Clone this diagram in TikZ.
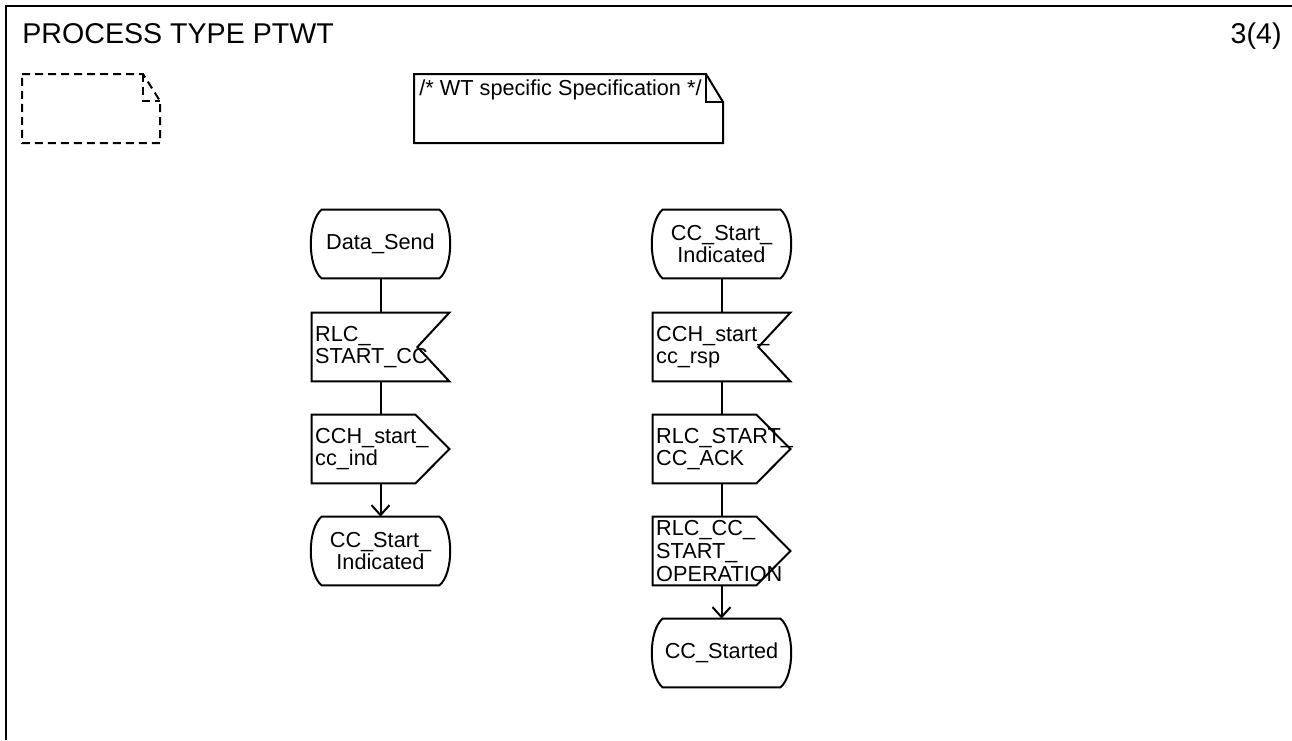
\documentclass[tikz,border=0pt]{standalone}
\usepackage{fontspec}
\setmainfont{Liberation Sans}
\usetikzlibrary{calc,arrows.meta}
\begin{document}
\begin{tikzpicture}[x=0.5pt,y=-0.5pt,
  every node/.style={font=\fontsize{10.85pt}{11.3pt}\selectfont},
  sdlbox/.style={rectangle,minimum width=68.5pt,minimum height=34pt,inner xsep=1.6pt,inner ysep=0pt,text width=65.3pt},
  statebox/.style={sdlbox,align=center},
  sigbox/.style={sdlbox,align=left},
  outline/.style={line width=1pt,line join=miter},
  flow/.style={line width=1pt},
  flowarrow/.style={line width=1pt,-{Straight Barb[length=5pt,width=9pt,line width=1pt]}},
  frameline/.style={line width=1.3pt}
]
\useasboundingbox (0,0) rectangle (1292,740);
% frame
\draw[frameline] (6,740) -- (6,6) -- (1292,6);
\node[anchor=base west,inner sep=0pt,font=\fontsize{14.3pt}{16pt}\selectfont] (title) at (22,43) {PROCESS TYPE PTWT};
\node[anchor=base east,inner sep=0pt,font=\fontsize{14.3pt}{16pt}\selectfont] (page) at (1282,43) {3(4)};

% text extension symbol (dashed, empty)
\draw[line width=1pt,dash pattern=on 4pt off 2.5pt] (22,74) -- (143,74) -- (160,101) -- (160,143) -- (22,143) -- cycle;
\draw[line width=1pt,dash pattern=on 4pt off 2.5pt] (143,74) -- (143,101) -- (160,101);

% comment
\draw[outline] (414,74) -- (706,74) -- (723,102) -- (723,143) -- (414,143) -- cycle;
\draw[outline] (706,74) -- (706,102) -- (723,102);
\node[anchor=base west,inner sep=0pt] (comment) at (419,95) {/* WT specific Specification */};

% ---------- left column ----------
\node[statebox] (s1) at (380.5,244) {Data\_Send};
\node[sigbox]   (i1) at (380.5,347) {RLC\_\\START\_CC};
\node[sigbox]   (o1) at (380.5,449) {CCH\_start\_\\cc\_ind};
\node[statebox] (s2) at (380.5,551) {CC\_Start\_\\Indicated};

% ---------- right column ----------
\node[statebox] (s3) at (721.5,244) {CC\_Start\_\\Indicated};
\node[sigbox]   (i2) at (721.5,347) {CCH\_start\_\\cc\_rsp};
\node[sigbox]   (o2) at (721.5,449) {RLC\_START\_\\CC\_ACK};
\node[sigbox]   (o3) at (721.5,551) {RLC\_CC\_\\START\_\\OPERATION};
\node[statebox] (s4) at (721.5,653) {CC\_Started};

% state outlines
\foreach \n in {s1,s2,s3,s4}{
  \draw[outline]
    ($(\n.north west)+(5pt,0)$) -- ($(\n.north east)+(-5pt,0)$)
    .. controls ($(\n.north east)+(2.2pt,-6pt)$) and ($(\n.south east)+(2.2pt,6pt)$) ..
    ($(\n.south east)+(-5pt,0)$) -- ($(\n.south west)+(5pt,0)$)
    .. controls ($(\n.south west)+(-2.2pt,6pt)$) and ($(\n.north west)+(-2.2pt,-6pt)$) ..
    cycle;
}
% input outlines
\foreach \n in {i1,i2}{
  \draw[outline] (\n.north west) -- (\n.north east) -- ($(\n.east)+(-16pt,0)$) -- (\n.south east) -- (\n.south west) -- cycle;
}
% output outlines
\foreach \n in {o1,o2,o3}{
  \draw[outline] (\n.north west) -- ($(\n.north east)+(-17pt,0)$) -- (\n.east) -- ($(\n.south east)+(-17pt,0)$) -- (\n.south west) -- cycle;
}

% connectors
\draw[flow] (s1.south) -- (i1.north);
\draw[flow] (i1.south) -- (o1.north);
\draw[flowarrow] (o1.south) -- (s2.north);
\draw[flow] (s3.south) -- (i2.north);
\draw[flow] (i2.south) -- (o2.north);
\draw[flow] (o2.south) -- (o3.north);
\draw[flowarrow] (o3.south) -- (s4.north);
\end{tikzpicture}
\end{document}
